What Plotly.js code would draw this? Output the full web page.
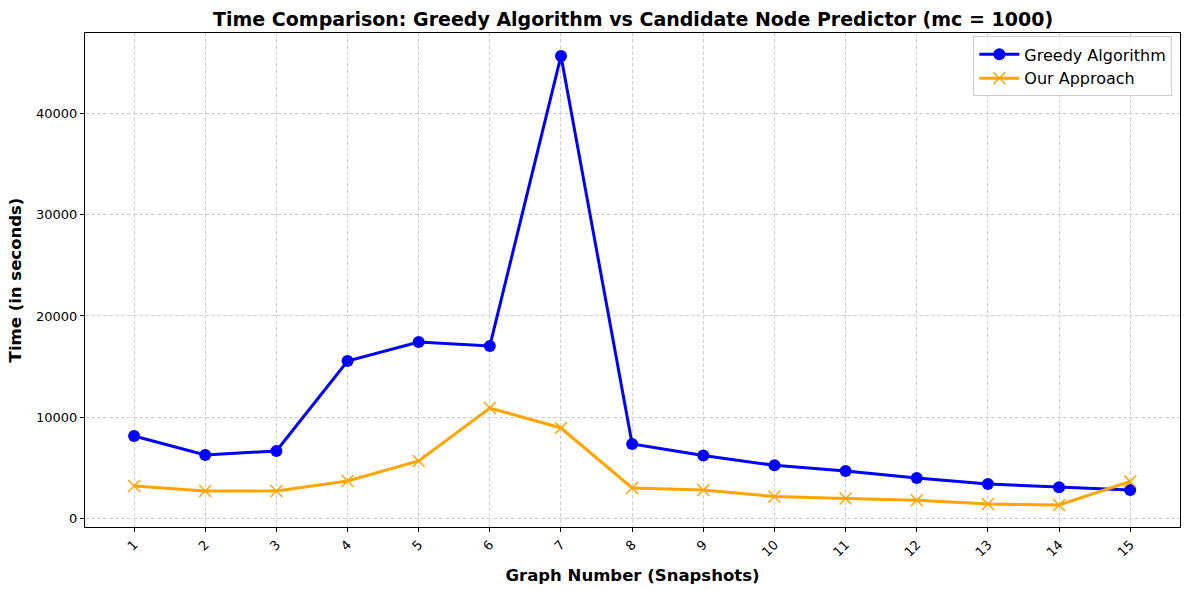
<!DOCTYPE html>
<html>
<head>
<meta charset="utf-8">
<script src="https://cdn.plot.ly/plotly-3.0.1.min.js"></script>
<style>html,body{margin:0;padding:0;background:#fff;}#chart{width:1190px;height:590px;}</style>
</head>
<body>
<div id="chart"></div>
<script>
const graphNumbers = [1,2,3,4,5,6,7,8,9,10,11,12,13,14,15];
const tickLabels = ["1","2","3","4","5","6","7","8","9","10","11","12","13","14","15"];
const greedyTimes = [8150,6270,6670,15560,17430,17040,45680,7360,6220,5250,4690,4000,3410,3080,2810];
const ourTimes = [3210,2720,2720,3700,5680,10910,8940,3010,2810,2170,1980,1800,1430,1330,3650];

const font = "DejaVu Sans, Liberation Sans, sans-serif";
const traces = [
  {x: graphNumbers, y: greedyTimes, name: "Greedy Algorithm", mode: "lines+markers",
   line: {color: "#0000ff", width: 3},
   marker: {symbol: "circle", size: 12, color: "#0000ff"}},
  {x: graphNumbers, y: ourTimes, name: "Our Approach", mode: "lines+markers",
   line: {color: "#ffa500", width: 3},
   marker: {symbol: "x-thin", size: 12, color: "#ffa500", line: {color: "#ffa500", width: 1.5}}}
];
const layout = {
  width: 1190, height: 590,
  margin: {l: 85, r: 10, t: 33, b: 63},
  paper_bgcolor: "#fff", plot_bgcolor: "#fff",
  font: {family: font, size: 13, color: "#000"},
  title: {text: "<b>Time Comparison: Greedy Algorithm vs Candidate Node Predictor (mc = 1000)</b>",
          font: {family: font, size: 19, color: "#000"}, x: 0.532, xanchor: "center", y: 0.967, yanchor: "middle"},
  xaxis: {range: [0.31, 15.7], tickmode: "array", tickvals: graphNumbers, ticktext: tickLabels,
          tickangle: -45, ticks: "outside", ticklen: 4, tickcolor: "#000",
          showline: true, linecolor: "#000", linewidth: 1, mirror: true,
          showgrid: true, gridcolor: "#d0d0d0", griddash: "4px,2px", gridwidth: 1, zeroline: false,
          tickfont: {size: 13},
          title: {text: "<b>Graph Number (Snapshots)</b>", font: {size: 16.5}, standoff: 10}},
  yaxis: {range: [-840, 47950], tickvals: [0,10000,20000,30000,40000], ticktext: ["0","10000","20000","30000","40000"],
          ticks: "outside", ticklen: 4, tickcolor: "#000",
          showline: true, linecolor: "#000", linewidth: 1, mirror: true,
          showgrid: true, gridcolor: "#d0d0d0", griddash: "4px,2px", gridwidth: 1, zeroline: false,
          tickfont: {size: 13},
          title: {text: "<b>Time (in seconds)</b>", font: {size: 16.5}, standoff: 10}},
  legend: {x: 0.993, y: 0.993, xanchor: "right", yanchor: "top", bgcolor: "rgba(255,255,255,0.8)",
           bordercolor: "#cccccc", borderwidth: 1, font: {size: 16}, itemwidth: 40, tracegroupgap: 0},
  showlegend: true
};
Plotly.newPlot("chart", traces, layout, {displayModeBar: false, staticPlot: true});
</script>
</body>
</html>
